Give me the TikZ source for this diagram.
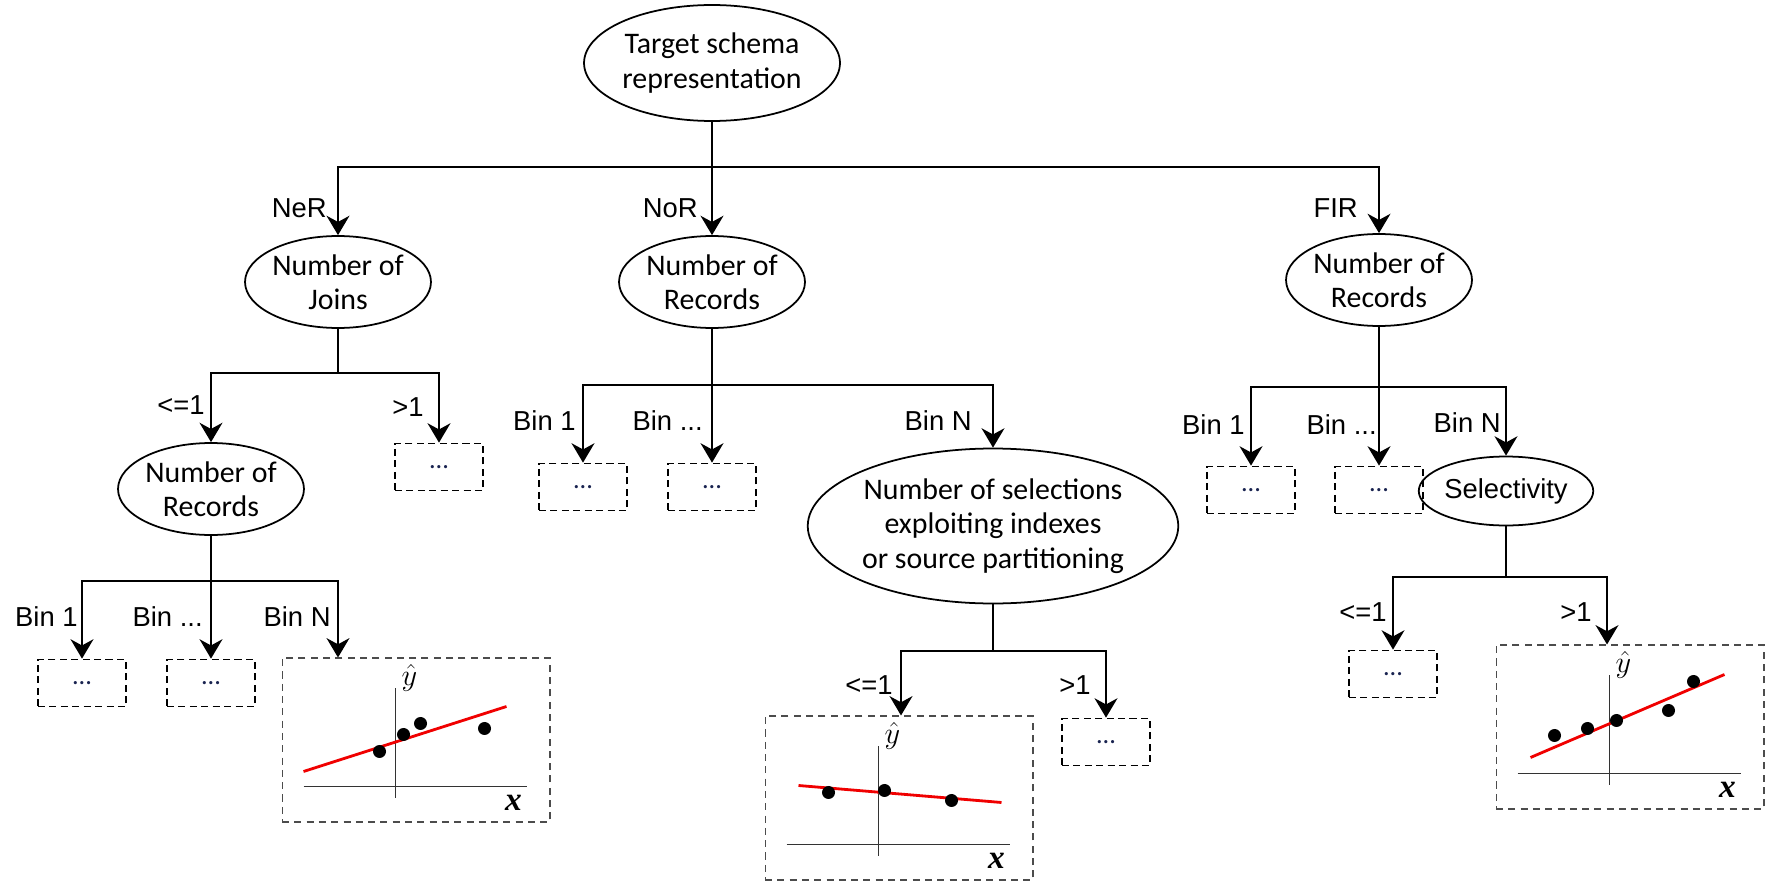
\documentclass[tikz,border=0pt]{standalone}
\usepackage{fontspec}
\setmainfont{Carlito}
\newfontfamily\arialfont{Liberation Sans}
\newfontfamily\timesfont{Liberation Serif}
\usetikzlibrary{shapes.geometric,arrows.meta}
\definecolor{dotblue}{RGB}{25,35,80}
\definecolor{fitred}{RGB}{240,0,0}

% axes of a small regression plot, relative to the box corner
\newcommand{\plotaxes}{%
  \draw[axis] (22,129) -- (245,129);
  \draw[axis] (114,31) -- (114,141);
  \node[font=\fontsize{17}{17}\selectfont] at (128,20) {$\hat{y}$};
  \node[font=\timesfont\bfseries\itshape\fontsize{19}{19}\selectfont] at (232,145) {x};
}

\begin{document}
\begin{tikzpicture}[x=0.02cm, y=-0.02cm,
    ell/.style={draw, ellipse, line width=1pt, inner sep=0pt, align=center,
      font=\fontsize{17}{19.6}\selectfont},
    leaf/.style={draw, line width=1pt, dash pattern=on 4pt off 2.5pt,
      minimum width=1.76cm, minimum height=0.94cm, inner sep=0pt,
      text=dotblue, font=\fontsize{15}{15}\selectfont},
    plotbox/.style={draw=black!70, line width=0.6pt, dash pattern=on 4pt off 3pt,
      minimum width=5.36cm, minimum height=3.28cm, inner sep=0pt},
    lbl/.style={anchor=east, inner sep=0pt, font=\arialfont\fontsize{15.6}{16}\selectfont},
    edge/.style={line width=1.3pt},
    arr/.style={edge, -{Stealth[length=11pt, width=13pt, inset=3.5pt]}},
    axis/.style={line width=0.6pt, black!80},
    fit/.style={line width=1.6pt, fitred}]

    \useasboundingbox (0,0) rectangle (1770,885);

    % root
    \node[ell, minimum width=5.12cm, minimum height=2.32cm] (root) at (712,63) {Target schema\\representation};
    \coordinate (j0) at (712,167);

    \node[ell, minimum width=3.72cm, minimum height=1.84cm] (joins) at (338,282) {Number of\\Joins};
    \node[ell, minimum width=3.72cm, minimum height=1.84cm] (recM) at (712,282) {Number of\\Records};
    \node[ell, minimum width=3.72cm, minimum height=1.84cm] (recR) at (1379,280) {Number of\\Records};

    \draw[edge] (root.south) -- (j0);
    \draw[arr] (j0) -| (joins.north);
    \draw[arr] (j0) -- (recM.north);
    \draw[arr] (j0) -| (recR.north);
    \node[lbl] (lner) at (327,208) {NeR};
    \node[lbl] (lnor) at (698,208) {NoR};
    \node[lbl] (lfir) at (1358,208) {FIR};

    % left branch
    \coordinate (j1) at (338,373);
    \node[ell, minimum width=3.72cm, minimum height=1.84cm] (recL) at (211,489) {Number of\\Records};
    \node[leaf] (gtL) at (439,467) {...};
    \draw[edge] (joins.south) -- (j1);
    \draw[arr] (j1) -| (recL.north);
    \draw[arr] (j1) -| (gtL.north);
    \node[lbl] (lle) at (205,405) {<=1};
    \node[lbl] (lgt) at (424,407) {>1};

    \coordinate (j2) at (211,581);
    \node[leaf] (binL1) at (82,683) {...};
    \node[leaf] (binL2) at (211,683) {...};
    \node[plotbox] (pL) at (416,740) {};
    \draw[edge] (recL.south) -- (j2);
    \draw[arr] (j2) -| (binL1.north);
    \draw[arr] (j2) -- (binL2.north);
    \draw[arr] (j2) -| (pL.north -| 338,0);
    \node[lbl] (lb1) at (78,617) {Bin 1};
    \node[lbl] (lb2) at (203,617) {Bin ...};
    \node[lbl] (lbn) at (331,617) {Bin N};

    \begin{scope}[shift={(pL.north west)}]
      \plotaxes
      \draw[fit] (22,114) -- (225,49);
      \foreach \p in {(98,94),(122,77),(139,66),(203,71)}
        \fill \p circle (0.13cm);
    \end{scope}

    % middle branch
    \coordinate (j3) at (712,385);
    \node[leaf] (binM1) at (583,487) {...};
    \node[leaf] (binM2) at (712,487) {...};
    \node[ell, minimum width=7.4cm, minimum height=3.1cm] (sel) at (993,526) {Number of selections\\exploiting indexes\\or source partitioning};
    \draw[edge] (recM.south) -- (j3);
    \draw[arr] (j3) -| (binM1.north);
    \draw[arr] (j3) -- (binM2.north);
    \draw[arr] (j3) -| (sel.north);
    \node[lbl] (lm1) at (576,421) {Bin 1};
    \node[lbl] (lm2) at (703,421) {Bin ...};
    \node[lbl] (lmn) at (972,421) {Bin N};

    \coordinate (j4) at (993,651);
    \node[plotbox] (pM) at (899,798) {};
    \node[leaf] (gtM) at (1106,742) {...};
    \draw[edge] (sel.south) -- (j4);
    \draw[arr] (j4) -| (pM.north -| 901,0);
    \draw[arr] (j4) -| (gtM.north);
    \node[lbl] (lmle) at (893,685) {<=1};
    \node[lbl] (lmgt) at (1091,685) {>1};

    \begin{scope}[shift={(pM.north west)}]
      \plotaxes
      \draw[fit] (34,70) -- (237,87);
      \foreach \p in {(64,77),(120,75),(187,85)}
        \fill \p circle (0.13cm);
    \end{scope}

    % right branch
    \coordinate (j5) at (1379,387);
    \node[leaf] (binR1) at (1251,490) {...};
    \node[leaf] (binR2) at (1379,490) {...};
    \node[ell, minimum width=2.78cm, minimum height=1.38cm, font=\arialfont\fontsize{15.6}{16}\selectfont] (slct) at (1506,491) {Selectivity};
    \draw[edge] (recR.south) -- (j5);
    \draw[arr] (j5) -| (binR1.north);
    \draw[arr] (j5) -- (binR2.north);
    \draw[arr] (j5) -| (slct.north);
    \node[lbl] (lr1) at (1245,425) {Bin 1};
    \node[lbl] (lr2) at (1377,425) {Bin ...};
    \node[lbl] (lrn) at (1501,423) {Bin N};

    \coordinate (j6) at (1506,577);
    \node[leaf] (leR) at (1393,674) {...};
    \node[plotbox] (pR) at (1630,727) {};
    \draw[edge] (slct.south) -- (j6);
    \draw[arr] (j6) -| (leR.north);
    \draw[arr] (j6) -| (pR.north -| 1607,0);
    \node[lbl] (lrle) at (1387,612) {<=1};
    \node[lbl] (lrgt) at (1592,612) {>1};

    \begin{scope}[shift={(pR.north west)}]
      \plotaxes
      \draw[fit] (35,113) -- (229,30);
      \foreach \p in {(59,91),(92,84),(121,76),(173,66),(198,37)}
        \fill \p circle (0.13cm);
    \end{scope}

\end{tikzpicture}
\end{document}
